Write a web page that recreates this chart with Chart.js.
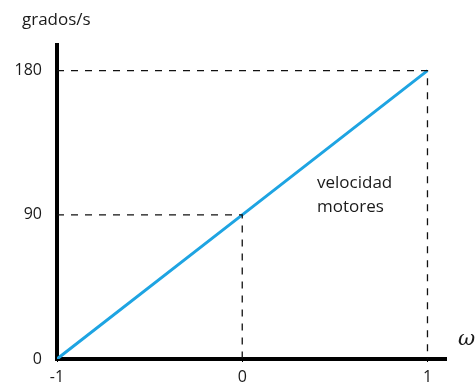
<!DOCTYPE html>
<html>
<head>
<meta charset="utf-8">
<script src="https://cdn.jsdelivr.net/npm/chart.js@4.4.1/dist/chart.umd.min.js"></script>
<style>
  html, body { margin: 0; padding: 0; background: #fff; }
  #wrap { width: 476px; height: 388px; }
</style>
</head>
<body>
<div id="wrap"><canvas id="grafico"></canvas></div>
<script>
// datos
var omega = [-1, 0, 1];
var velocidad = [0, 90, 180];
var xTicks = [-1, 0, 1];
var yTicks = [0, 90, 180];
var xMax = 1.1;
var yMax = 196;

var FONT = "'Open Sans', Lato, sans-serif";

var linea = omega.map(function (w, i) { return { x: w, y: velocidad[i] }; });

// guias punteadas desde el eje hasta cada punto (0,90) y (1,180)
function guia(i) {
  return [
    { x: omega[0], y: velocidad[i] },
    { x: omega[i], y: velocidad[i] },
    { x: omega[i], y: 0 }
  ];
}

var textos = {
  id: 'textos',
  afterDraw: function (chart) {
    var ctx = chart.ctx;
    ctx.save();
    ctx.fillStyle = '#1a1a1a';
    ctx.textBaseline = 'middle';
    ctx.font = "17px " + FONT;
    ctx.textAlign = 'left';
    ctx.fillText('grados/s', 22, 20);
    ctx.fillText('velocidad', 317, 183);
    ctx.fillText('motores', 317, 207);
    ctx.font = "italic 21px 'DejaVu Serif', serif";
    ctx.fillText('ω', 458, 340);
    ctx.restore();
  }
};

var chart = new Chart(document.getElementById('grafico'), {
  type: 'scatter',
  data: {
    datasets: [
      {
        data: guia(2),
        showLine: true,
        borderColor: '#111',
        borderWidth: 1.3,
        borderDash: [7, 7],
        pointRadius: 0
      },
      {
        data: guia(1),
        showLine: true,
        borderColor: '#111',
        borderWidth: 1.3,
        borderDash: [7, 7],
        pointRadius: 0
      },
      {
        data: linea,
        showLine: true,
        borderColor: '#1ea4e2',
        borderWidth: 3,
        pointRadius: 0
      }
    ]
  },
  options: {
    responsive: true,
    maintainAspectRatio: false,
    animation: false,
    layout: { padding: { top: 45, right: 30, left: 0, bottom: 0 } },
    plugins: { legend: { display: false }, tooltip: { enabled: false } },
    scales: {
      x: {
        type: 'linear',
        min: -1,
        max: xMax,
        afterBuildTicks: function (s) { s.ticks = xTicks.map(function (v) { return { value: v }; }); },
        afterFit: function (s) { s.height = 29; },
        grid: { drawOnChartArea: false, drawTicks: true, tickLength: 3, color: '#000', lineWidth: 1 },
        border: { display: true, color: '#000', width: 4 },
        ticks: { color: '#1a1a1a', font: { family: FONT, size: 16 }, padding: 6, maxRotation: 0 }
      },
      y: {
        type: 'linear',
        min: 0,
        max: yMax,
        afterBuildTicks: function (s) { s.ticks = yTicks.map(function (v) { return { value: v }; }); },
        afterFit: function (s) { s.width = 57; },
        grid: { drawOnChartArea: false, drawTicks: false, color: '#000', lineWidth: 1 },
        border: { display: true, color: '#000', width: 4 },
        ticks: { color: '#1a1a1a', font: { family: FONT, size: 16 }, padding: 15 }
      }
    }
  },
  plugins: [textos]
});
</script>
</body>
</html>
